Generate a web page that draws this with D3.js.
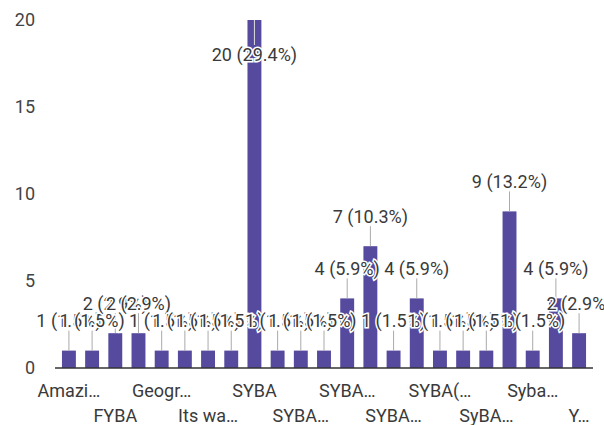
<!DOCTYPE html>
<html>
<head>
<meta charset="utf-8">
<script src="https://cdn.jsdelivr.net/npm/d3@7"></script>
<style>
  body { margin: 0; background: #fff; }
  svg { display: block; font-family: Roboto, "Noto Sans", sans-serif; }
</style>
</head>
<body>
<svg width="604" height="425"></svg>
<script>
// answers per category (Google Forms style bar chart), 68 responses total
var categories = ["Amazi…", "Arts", "FYBA", "FYBA…", "Geogr…", "History", "Its wa…", "Poli…",
                  "SYBA", "SYBA…", "SYBA…", "SYBA…", "SYBA…", "SYBA…", "SYBA…", "SYBA(…",
                  "SYBA(…", "SYBA(…", "SyBA…", "Syba", "Syba…", "Syba…", "Y…"];
var counts = [1, 1, 2, 2, 1, 1, 1, 1, 20, 1, 1, 1, 4, 7, 1, 4, 1, 1, 1, 9, 1, 4, 2];
var yTicks = [0, 5, 10, 15, 20];

var total = d3.sum(counts);
var barColor = "#554a9e";
var textColor = "#3a3a3a";

var svg = d3.select("svg");

var x = d3.scaleBand()
  .domain(d3.range(counts.length))
  .range([55, 593])
  .paddingInner(0.4)
  .paddingOuter(0.3);

var y = d3.scaleLinear()
  .domain([0, 20])
  .range([368, 20]);

// y tick labels only, no gridlines visible
svg.append("g")
  .selectAll("text")
  .data(yTicks)
  .join("text")
  .attr("x", 35)
  .attr("y", function(d) { return y(d); })
  .attr("dy", "0.35em")
  .attr("text-anchor", "end")
  .attr("font-size", 18)
  .attr("fill", "#444")
  .text(function(d) { return d; });

// bars
svg.append("g")
  .selectAll("rect")
  .data(counts)
  .join("rect")
  .attr("x", function(d, i) { return x(i); })
  .attr("y", function(d) { return y(d); })
  .attr("width", x.bandwidth())
  .attr("height", function(d) { return y(0) - y(d); })
  .attr("fill", barColor);

// baseline
svg.append("line")
  .attr("x1", 55).attr("x2", 593)
  .attr("y1", y(0)).attr("y2", y(0))
  .attr("stroke", "#333")
  .attr("stroke-width", 1.5);

// category labels: every other one, staggered in two rows
svg.append("g")
  .selectAll("text")
  .data(categories.filter(function(d, i) { return i % 2 === 0; }))
  .join("text")
  .attr("x", function(d, k) { return x(k * 2) + x.bandwidth() / 2; })
  .attr("y", function(d, k) { return k % 2 === 0 ? 391 : 416; })
  .attr("dy", "0.35em")
  .attr("text-anchor", "middle")
  .attr("font-size", 18)
  .attr("fill", textColor)
  .text(function(d) { return d; });

// annotation position: 30px above bar, or inside the bar if no room on top
var labelY = function(d) {
  var top = y(d);
  return (top - 30 < 15) ? top + 35 : top - 30;
};

// stems
svg.append("g")
  .selectAll("line")
  .data(counts)
  .join("line")
  .attr("x1", function(d, i) { return x(i) + x.bandwidth() / 2; })
  .attr("x2", function(d, i) { return x(i) + x.bandwidth() / 2; })
  .attr("y1", function(d) { return y(d); })
  .attr("y2", function(d) {
    var ly = labelY(d);
    return ly > y(d) ? ly - 10 : ly + 10;
  })
  .attr("stroke", function(d) { return labelY(d) > y(d) ? "#ddd" : "#aaa"; })
  .attr("stroke-width", 1);

// annotations, drawn in order so later ones cover earlier ones
svg.append("g")
  .selectAll("text")
  .data(counts)
  .join("text")
  .attr("x", function(d, i) { return x(i) + x.bandwidth() / 2; })
  .attr("y", function(d) { return labelY(d); })
  .attr("dy", "0.35em")
  .attr("text-anchor", "middle")
  .attr("font-size", 18)
  .attr("fill", textColor)
  .attr("stroke", "#fff")
  .attr("stroke-width", 3)
  .attr("paint-order", "stroke")
  .text(function(d) { return d + " (" + (d / total * 100).toFixed(1) + "%)"; });
</script>
</body>
</html>
